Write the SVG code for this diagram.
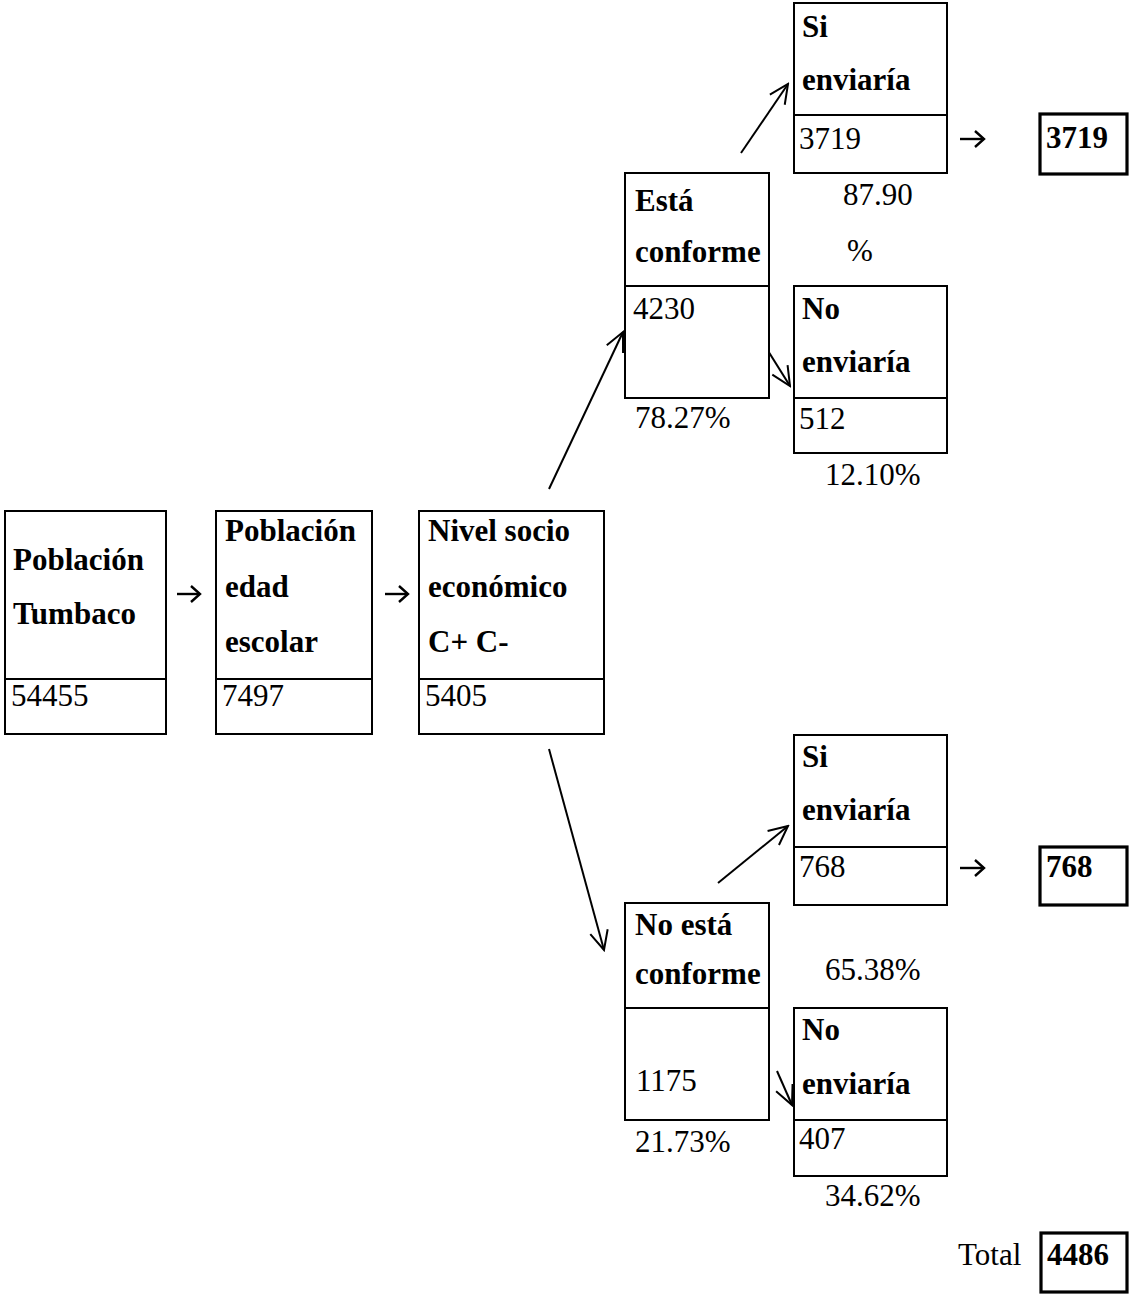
<svg xmlns="http://www.w3.org/2000/svg" width="1134" height="1295" viewBox="0 0 1134 1295">
<defs>
<style>
.box{fill:#fff;stroke:#000;stroke-width:2}
.fbox{fill:#fff;stroke:#000;stroke-width:3.2}
.div{stroke:#000;stroke-width:2}
.b{font-family:"Liberation Serif","Times New Roman",serif;font-size:31px;font-weight:bold;fill:#000}
.r{font-family:"Liberation Serif","Times New Roman",serif;font-size:31px;fill:#000}
.con{fill:none;stroke:#000;stroke-width:2}
.hcon{fill:none;stroke:#000;stroke-width:2.4}
</style>
<marker id="arr" viewBox="-22 -11 24 22" refX="0" refY="0" markerWidth="24" markerHeight="22" markerUnits="userSpaceOnUse" orient="auto">
<path d="M-19,-9 L0,0 L-19,9" fill="none" stroke="#000" stroke-width="2"/>
</marker>
<marker id="arrs" viewBox="-12 -10 14 20" refX="0" refY="0" markerWidth="14" markerHeight="20" markerUnits="userSpaceOnUse" orient="auto">
<path d="M-9,-8 L0,0 L-9,8" fill="none" stroke="#000" stroke-width="2.4"/>
</marker>
</defs>
<rect width="1134" height="1295" fill="#fff"/>

<g id="connectors">
<line class="hcon" x1="177" y1="594" x2="200" y2="594" marker-end="url(#arrs)"/>
<line class="hcon" x1="385" y1="594" x2="408" y2="594" marker-end="url(#arrs)"/>
<line class="con" x1="549" y1="489" x2="623" y2="332" marker-end="url(#arr)"/>
<line class="con" x1="741" y1="153" x2="788" y2="84" marker-end="url(#arr)"/>
<line class="con" x1="765" y1="346" x2="790" y2="386" marker-end="url(#arr)"/>
<line class="hcon" x1="960" y1="139" x2="984" y2="139" marker-end="url(#arrs)"/>
<line class="con" x1="549" y1="749" x2="604" y2="950" marker-end="url(#arr)"/>
<line class="con" x1="718" y1="883" x2="788" y2="826" marker-end="url(#arr)"/>
<line class="con" x1="777" y1="1071" x2="792" y2="1105" marker-end="url(#arr)"/>
<line class="hcon" x1="960" y1="868" x2="984" y2="868" marker-end="url(#arrs)"/>
</g>

<g id="poblacion-tumbaco">
<rect class="box" x="5" y="511" width="161" height="223"/>
<line class="div" x1="5" y1="679" x2="166" y2="679"/>
<text class="b" x="13" y="570">Población</text>
<text class="b" x="13" y="624">Tumbaco</text>
<text class="r" x="11" y="706">54455</text>
</g>

<g id="poblacion-edad-escolar">
<rect class="box" x="216" y="511" width="156" height="223"/>
<line class="div" x1="216" y1="679" x2="372" y2="679"/>
<text class="b" x="225" y="541">Población</text>
<text class="b" x="225" y="597">edad</text>
<text class="b" x="225" y="652">escolar</text>
<text class="r" x="222" y="706">7497</text>
</g>

<g id="nivel-socio">
<rect class="box" x="419" y="511" width="185" height="223"/>
<line class="div" x1="419" y1="679" x2="604" y2="679"/>
<text class="b" x="428" y="541">Nivel socio</text>
<text class="b" x="428" y="597">económico</text>
<text class="b" x="428" y="652">C+ C-</text>
<text class="r" x="425" y="706">5405</text>
</g>

<g id="esta-conforme">
<rect class="box" x="625" y="173" width="144" height="225"/>
<line class="div" x1="625" y1="286" x2="769" y2="286"/>
<text class="b" x="635" y="211">Está</text>
<text class="b" x="635" y="262">conforme</text>
<text class="r" x="633" y="319">4230</text>
<text class="r" x="635" y="428">78.27%</text>
</g>

<g id="si-enviaria-1">
<rect class="box" x="794" y="3" width="153" height="170"/>
<line class="div" x1="794" y1="115" x2="947" y2="115"/>
<text class="b" x="802" y="37">Si</text>
<text class="b" x="802" y="90">enviaría</text>
<text class="r" x="799" y="149">3719</text>
<text class="r" x="843" y="205">87.90</text>
<text class="r" x="847" y="261">%</text>
</g>

<g id="no-enviaria-1">
<rect class="box" x="794" y="286" width="153" height="167"/>
<line class="div" x1="794" y1="398" x2="947" y2="398"/>
<text class="b" x="802" y="319">No</text>
<text class="b" x="802" y="372">enviaría</text>
<text class="r" x="799" y="429">512</text>
<text class="r" x="825" y="485">12.10%</text>
</g>

<g id="result-3719">
<rect class="fbox" x="1040" y="114" width="87" height="60"/>
<text class="b" x="1046" y="148">3719</text>
</g>

<g id="no-esta-conforme">
<rect class="box" x="625" y="903" width="144" height="217"/>
<line class="div" x1="625" y1="1008" x2="769" y2="1008"/>
<text class="b" x="635" y="935">No está</text>
<text class="b" x="635" y="984">conforme</text>
<text class="r" x="636" y="1091">1175</text>
<text class="r" x="635" y="1152">21.73%</text>
</g>

<g id="si-enviaria-2">
<rect class="box" x="794" y="735" width="153" height="170"/>
<line class="div" x1="794" y1="847" x2="947" y2="847"/>
<text class="b" x="802" y="767">Si</text>
<text class="b" x="802" y="820">enviaría</text>
<text class="r" x="799" y="877">768</text>
<text class="r" x="825" y="980">65.38%</text>
</g>

<g id="no-enviaria-2">
<rect class="box" x="794" y="1008" width="153" height="168"/>
<line class="div" x1="794" y1="1120" x2="947" y2="1120"/>
<text class="b" x="802" y="1040">No</text>
<text class="b" x="802" y="1094">enviaría</text>
<text class="r" x="799" y="1149">407</text>
<text class="r" x="825" y="1206">34.62%</text>
</g>

<g id="result-768">
<rect class="fbox" x="1040" y="847" width="87" height="58"/>
<text class="b" x="1046" y="877">768</text>
</g>

<g id="total">
<text class="r" x="958" y="1265">Total</text>
<rect class="fbox" x="1041" y="1233" width="86" height="59"/>
<text class="b" x="1047" y="1265">4486</text>
</g>
</svg>
